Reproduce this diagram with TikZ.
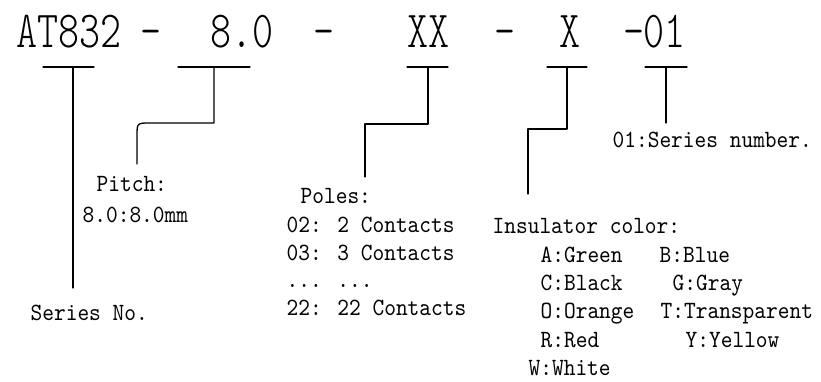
\documentclass[tikz,border=0pt]{standalone}
\usepackage{fontspec}
\newfontfamily\titlefont[FakeStretch=0.77]{lmmonolt10-regular.otf}
\newfontfamily\labfont[FakeStretch=0.9]{lmmono10-regular.otf}
\begin{document}
\begin{tikzpicture}[x=1pt,y=-1pt,line join=round,line cap=round,line width=1.3pt,
	tit/.style={anchor=base west,inner sep=0pt,font=\titlefont\fontsize{52}{60}\selectfont},
	lab/.style={anchor=base west,inner sep=0pt,font=\labfont\fontsize{24.8}{28}\selectfont}]
	\def\yb{48} \def\yu{67} % baseline of the code, level of the bars
	\useasboundingbox (0,0) rectangle (821,382);
	% code
	\node[tit] (ser) at (16,\yb) {AT832};
	\node[tit,anchor=base] (d1) at (151,\yb) {-};
	\node[tit] (pit) at (210,\yb) {8.0};
	\node[tit,anchor=base] (d2) at (324,\yb) {-};
	\node[tit] (pol) at (407,\yb) {XX};
	\node[tit,anchor=base] (d3) at (505,\yb) {-};
	\node[tit,anchor=base] (col) at (570,\yb) {X};
	\node[tit,anchor=base] (d4) at (634,\yb) {-};
	\node[tit,anchor=base east] (num) at (686,\yb) {01};
	% texts
	\node[lab] (sn) at (30,320) {Series No.};
	\node[lab] (pt1) at (96,192) {Pitch:};
	\node[lab] (pt2) at (82,222) {8.0:8.0mm};
	\node[lab] (po0) at (300,203) {Poles:};
	\node[lab] (po1) at (286,232) {02: 2 Contacts};
	\node[lab] (po2) at (286,260) {03: 3 Contacts};
	\node[lab] (po3) at (286,287) {... ...};
	\node[lab] (po4) at (286,315) {22: 22 Contacts};
	\node[lab] (nb) at (612,148) {01:Series number.};
	\node[lab] (ic) at (492,233) {Insulator color:};
	\foreach \t/\x/\y [count=\i] in {A:Green/540/262,B:Blue/659/262,C:Black/540/290,G:Gray/672/290,
		O:Orange/540/318,T:Transparent/660/318,R:Red/540/347,Y:Yellow/685/347,W:White/528/375}
		\node[lab] (ic\i) at (\x,\y) {\t};
	% bars
	\coordinate (a1) at (73,\yu); \coordinate (e1) at (73,288);
	\coordinate (a2) at (214,\yu); \coordinate (e2) at (137,164);
	\coordinate (a3) at (428,\yu); \coordinate (e3) at (365,177);
	\coordinate (a4) at (567,\yu); \coordinate (e4) at (528,194);
	\coordinate (a5) at (666,\yu); \coordinate (e5) at (666,123);
	\draw (43,\yu)--(94,\yu) (178,\yu)--(250,\yu) (407,\yu)--(448,\yu) (547,\yu)--(587,\yu) (645,\yu)--(687,\yu);
	\draw (a1)--(e1);
	\draw (a2) |- (150,123) .. controls (e2|-a2|-0,123) .. (137,136) -- (e2);
	\draw (a3) |- (e3|-0,124) -- (e3);
	\draw (a4) |- (e4|-0,129) -- (e4);
	\draw (a5)--(e5);
\end{tikzpicture}
\end{document}
